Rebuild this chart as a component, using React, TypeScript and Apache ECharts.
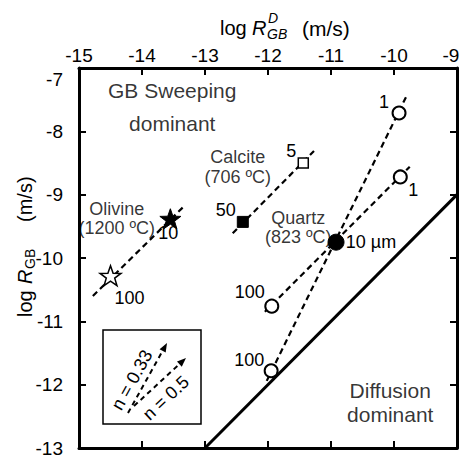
import React, { useEffect, useRef } from 'react';
import * as echarts from 'echarts';

const FONT = '"Liberation Sans", Arial, Helvetica, sans-serif';

// Axis ranges
const xRange = [-15, -9];
const yRange = [-13, -7];

// Dashed trend lines: [log R_GB^D, log R_GB]
const olivineLine = [[-14.78, -10.6], [-13.33, -9.18]];
const calciteLine = [[-12.56, -9.61], [-11.27, -8.31]];
const quartzSteepLine = [[-12.02, -11.94], [-9.81, -7.46]];
const quartzShallowLine = [[-12.05, -10.85], [-9.75, -8.56]];
// Solid regime boundary
const boundaryLine = [[-13, -13], [-9, -9]];

// Markers
const olivineOpen = [[-14.5, -10.28]];
const olivineFilled = [[-13.55, -9.38]];
const calciteFilled = [[-12.4, -9.43]];
const calciteOpen = [[-11.44, -8.5]];
const quartzFilled = [[-10.92, -9.75]];
const quartzOpen = [[-9.92, -7.71], [-9.9, -8.72], [-11.94, -10.76], [-11.95, -11.78]];

// Marker labels (grain size, µm)
const olivineOpenLabels = ['100'];
const olivineFilledLabels = ['10'];
const calciteFilledLabels = ['50'];
const calciteOpenLabels = ['5'];
const quartzFilledLabels = ['10 µm'];
const quartzOpenLabels = ['1', '1', '100', '100'];

// Annotations
const noteTexts = ['GB Sweeping\ndominant', 'Olivine\n(1200 ºC)', 'Calcite\n(706 ºC)', 'Quartz\n(823 ºC)', 'Diffusion\ndominant'];
const notePositions = [[-13.52, -7.61], [-14.4, -9.38], [-12.48, -8.56], [-11.52, -9.52], [-10.06, -12.28]];

const STAR = 'path://M50 0 L61.76 33.82 L97.55 34.55 L69.02 56.18 L79.39 90.45 L50 70 L20.61 90.45 L30.98 56.18 L2.45 34.55 L38.24 33.82 Z';

function lineSeries(data: number[][], dashed: boolean, width: number) {
  return {
    type: 'line',
    data,
    symbol: 'none',
    silent: true,
    lineStyle: { color: '#000', width, opacity: 1, type: dashed ? [6, 4] : 'solid' },
    z: 2,
  };
}

function markerSeries(
  data: number[][], labels: string[], offsets: number[][],
  symbol: string, size: number, filled: boolean, borderWidth: number
) {
  return {
    type: 'scatter',
    symbol,
    symbolSize: size,
    symbolKeepAspect: true,
    z: 5,
    itemStyle: { color: filled ? '#000' : '#fff', borderColor: '#000', borderWidth, opacity: 1 },
    data: data.map((d, i) => ({
      value: d,
      label: {
        show: true,
        formatter: labels[i],
        position: 'inside',
        offset: offsets[i],
        color: '#000',
        fontSize: 18,
        fontFamily: FONT,
      },
    })),
  };
}

function arrow(x1: number, y1: number, x2: number, y2: number) {
  const dx = x2 - x1, dy = y2 - y1;
  const len = Math.sqrt(dx * dx + dy * dy);
  const ux = dx / len, uy = dy / len;
  const hl = 9, hw = 3.5;
  const bx = x2 - ux * hl, by = y2 - uy * hl;
  return [
    { type: 'line', shape: { x1, y1, x2: bx, y2: by }, style: { stroke: '#000', lineWidth: 2, lineDash: [5, 4] } },
    {
      type: 'polygon',
      shape: { points: [[x2, y2], [bx - uy * hw, by + ux * hw], [bx + uy * hw, by - ux * hw]] },
      style: { fill: '#000' },
    },
  ];
}

function txt(text: string, x: number, y: number, size: number, italic = false, extra: any = {}, rotation = 0) {
  return {
    type: 'text',
    x, y,
    rotation,
    style: {
      text,
      fill: '#000',
      font: `${italic ? 'italic ' : ''}${size}px ${FONT}`,
      align: 'left', verticalAlign: 'middle',
      textAlign: 'left', textVerticalAlign: 'middle',
      ...extra,
    },
  };
}

export default function App() {
  const ref = useRef<HTMLDivElement>(null);
  useEffect(() => {
    if (!ref.current) return;
    const chart = echarts.init(ref.current, undefined, { renderer: 'svg' });

    const axisBase = {
      type: 'value',
      interval: 1,
      axisLine: { show: true, onZero: false, lineStyle: { color: '#000', width: 3 } },
      axisTick: { show: true, inside: true, length: 7, lineStyle: { color: '#000', width: 2 } },
      splitLine: { show: false },
    };
    const center = { align: 'center', textAlign: 'center' };

    const option: any = {
      animation: false,
      backgroundColor: '#fff',
      grid: { left: 79, right: 5, top: 68, bottom: 13, containLabel: false, outerBoundsMode: 'none' },
      xAxis: [
        {
          ...axisBase, min: xRange[0], max: xRange[1], position: 'top',
          axisLabel: {
            show: true, color: '#000', fontSize: 19, fontFamily: FONT, margin: 3,
            showMinLabel: true, showMaxLabel: true,
            formatter: (v: number) => (Math.round(v) === -9 ? '{r|-9}' : String(Math.round(v))),
            rich: { r: { padding: [0, 12, 0, 0], fontSize: 19, fontFamily: FONT, color: '#000' } },
          },
        },
        { ...axisBase, min: xRange[0], max: xRange[1], position: 'bottom', axisLabel: { show: false } },
      ],
      yAxis: [
        {
          ...axisBase, min: yRange[0], max: yRange[1], position: 'left',
          axisLabel: {
            show: true, color: '#000', fontSize: 19, fontFamily: FONT, margin: 16,
            showMinLabel: true, showMaxLabel: true,
            formatter: (v: number) => (Math.round(v) === -7 ? '{t|-7}' : String(Math.round(v))),
            rich: { t: { padding: [22, 0, 0, 0], fontSize: 19, fontFamily: FONT, color: '#000' } },
          },
        },
        { ...axisBase, min: yRange[0], max: yRange[1], position: 'right', axisLabel: { show: false } },
      ],
      series: [
        lineSeries(olivineLine, true, 2.2),
        lineSeries(calciteLine, true, 2.2),
        lineSeries(quartzSteepLine, true, 2.2),
        lineSeries(quartzShallowLine, true, 2.2),
        lineSeries(boundaryLine, false, 3),
        markerSeries(olivineOpen, olivineOpenLabels, [[19, 22]], STAR, 21, false, 1.5),
        markerSeries(olivineFilled, olivineFilledLabels, [[-2, 14]], STAR, 21, true, 1),
        markerSeries(calciteFilled, calciteFilledLabels, [[-17, -12]], 'rect', 11, true, 1),
        markerSeries(calciteOpen, calciteOpenLabels, [[-12, -12]], 'rect', 10, false, 1.5),
        markerSeries(quartzFilled, quartzFilledLabels, [[35, 0]], 'circle', 16, true, 1),
        markerSeries(quartzOpen, quartzOpenLabels, [[-15, -11], [13, 13], [-22, -14], [-22, -11]], 'circle', 13, false, 2),
        {
          type: 'scatter',
          symbolSize: 0.1,
          itemStyle: { color: 'transparent' },
          silent: true,
          z: 6,
          data: notePositions.map((p, i) => ({
            value: p,
            label: {
              show: true,
              formatter: noteTexts[i],
              position: 'inside',
              align: 'center',
              verticalAlign: 'middle',
              color: '#000',
              fontFamily: FONT,
              fontSize: i === 0 || i === 4 ? 21 : 18,
              lineHeight: [33, 19, 20, 19, 24][i],
            },
          })),
        },
      ],
      graphic: {
        elements: [
          // top axis title: log R_GB^D (m/s)
          txt('log', 220, 28, 20),
          txt('R', 252, 28, 20, true),
          txt('D', 268, 18, 14, true),
          txt('GB', 267, 34, 14, true),
          txt('(m/s)', 302, 28, 21),
          // left axis title: log R_GB (m/s)
          {
            type: 'group',
            x: 25, y: 317,
            rotation: Math.PI / 2,
            children: [
              txt('log', 0, 0, 20),
              txt('R', 33, 0, 20, true),
              txt('GB', 48, 5, 14),
              txt('(m/s)', 95, 0, 20),
            ],
          },
          // inset legend
          { type: 'rect', shape: { x: 103, y: 330, width: 98, height: 94 }, style: { fill: 'none', stroke: '#000', lineWidth: 1.5 } },
          ...arrow(128, 413, 167, 343),
          ...arrow(134, 406, 186, 358),
          txt('n = 0.33', 132, 380, 18, false, center, (61 * Math.PI) / 180),
          txt('n = 0.5', 166, 398, 18, false, center, (43 * Math.PI) / 180),
        ],
      },
    };

    chart.setOption(option);
    return () => chart.dispose();
  }, []);

  return <div ref={ref} style={{ position: 'absolute', left: 0, top: 0, width: 462, height: 461 }} />;
}
